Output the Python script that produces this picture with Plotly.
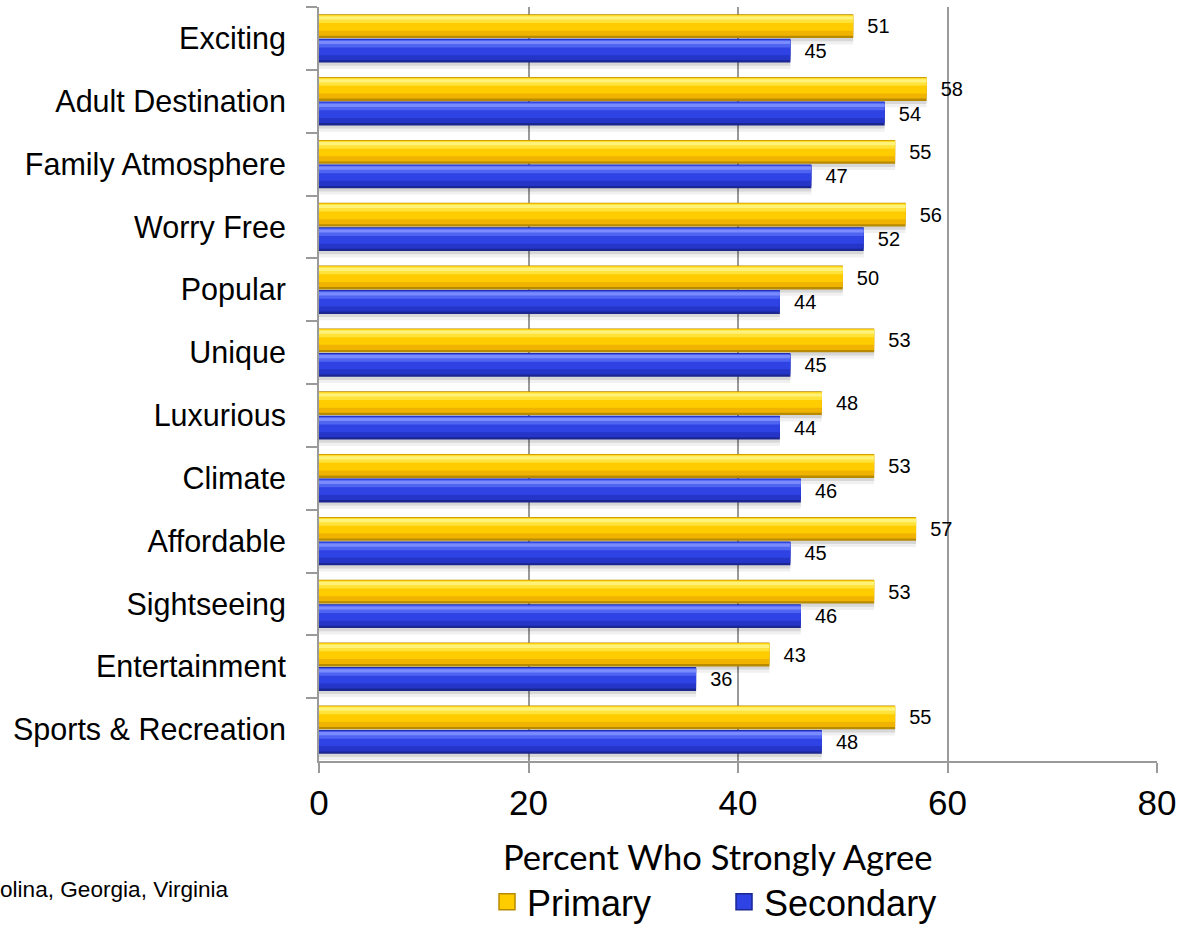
import plotly.graph_objects as go

# Survey attributes, top to bottom
categories = [
    "Exciting", "Adult Destination", "Family Atmosphere", "Worry Free",
    "Popular", "Unique", "Luxurious", "Climate", "Affordable",
    "Sightseeing", "Entertainment", "Sports & Recreation",
]
primary = [51, 58, 55, 56, 50, 53, 48, 53, 57, 53, 43, 55]
secondary = [45, 54, 47, 52, 44, 45, 44, 46, 45, 46, 36, 48]
x_ticks = [0, 20, 40, 60, 80]

BAR_W = 0.38
NBSP = "\u00a0"
ARIAL = "Liberation Sans, Arial, sans-serif"

# colour ramps for a bevelled look
yellow = dict(edge="#B88A00", body="#FFCC00", low="#F0B400", light="#FFE23A", hi="#FFF27A")
blue = dict(edge="#1B2690", body="#2F42E4", low="#2535C8", light="#5064F2", hi="#7A8AFF")

fig = go.Figure()


def add_series(values, offset, pal, name):
    common = dict(x=values, y=categories, orientation="h", hoverinfo="skip",
                  showlegend=False)
    # soft drop shadow (two layers)
    fig.add_trace(go.Bar(**common, offset=offset + 0.10, width=BAR_W,
                         marker=dict(color="rgba(0,0,0,0.06)", line_width=0)))
    fig.add_trace(go.Bar(**common, offset=offset + 0.05, width=BAR_W,
                         marker=dict(color="rgba(0,0,0,0.10)", line_width=0)))
    # dark outer edge carries the value label
    fig.add_trace(go.Bar(**common, offset=offset, width=BAR_W,
                         marker=dict(color=pal["edge"], line_width=0),
                         text=values, texttemplate=NBSP * 2 + "%{x}",
                         textposition="outside", constraintext="none",
                         cliponaxis=False,
                         textfont=dict(family=ARIAL, size=20, color="#000")))
    # lower body
    fig.add_trace(go.Bar(**common, offset=offset + 0.012, width=BAR_W - 0.05,
                         marker=dict(color=pal["low"], line_width=0)))
    # main body
    fig.add_trace(go.Bar(**common, offset=offset + 0.012, width=BAR_W - 0.13,
                         marker=dict(color=pal["body"], line_width=0)))
    # upper light band
    fig.add_trace(go.Bar(**common, offset=offset + 0.02, width=0.12,
                         marker=dict(color=pal["light"], line_width=0)))
    # bright highlight stripe
    fig.add_trace(go.Bar(**common, offset=offset + 0.035, width=0.05,
                         marker=dict(color=pal["hi"], line_width=0)))
    # legend entry
    fig.add_trace(go.Scatter(x=[None], y=[None], mode="markers", name=name,
                             marker=dict(symbol="square", size=20, color=pal["body"],
                                         line=dict(color=pal["edge"], width=1.5)),
                             hoverinfo="skip"))


add_series(primary, -0.385, yellow, "Primary")
add_series(secondary, 0.005, blue, "Secondary")

fig.update_layout(
    width=1184, height=925,
    margin=dict(l=319, r=27, t=7, b=164),
    paper_bgcolor="white", plot_bgcolor="white",
    barmode="overlay",
    font=dict(family=ARIAL, color="#000"),
    showlegend=True,
    legend=dict(orientation="h", x=0.2005, xanchor="left",
                yref="container", y=0.025, yanchor="middle",
                font=dict(family=ARIAL, size=36),
                entrywidth=192, entrywidthmode="pixels", itemclick=False,
                bgcolor="rgba(0,0,0,0)"),
    annotations=[
        dict(text="Percent Who Strongly Agree", xref="paper", yref="paper",
             x=0.4755, y=-0.127, xanchor="center", yanchor="middle", showarrow=False,
             font=dict(family="Lato, Open Sans, sans-serif", size=34.6)),
        dict(text="olina, Georgia, Virginia", xref="paper", yref="paper",
             x=-0.105, y=-0.170, xanchor="right", yanchor="middle", showarrow=False,
             font=dict(family=ARIAL, size=22.6)),
    ],
)

fig.update_xaxes(
    range=[0, 80], tickvals=x_ticks,
    showgrid=True, gridcolor="#9a9a9a", gridwidth=1.5,
    showline=True, linecolor="#9a9a9a", linewidth=2,
    ticks="outside", ticklen=10, tickwidth=2, tickcolor="#9a9a9a",
    zeroline=False, automargin=False,
    tickfont=dict(family=ARIAL, size=35),
)
fig.update_yaxes(
    type="category", categoryorder="array", categoryarray=categories,
    autorange="reversed",
    showgrid=False, showline=True, linecolor="#9a9a9a", linewidth=2,
    ticks="outside", tickson="boundaries", ticklen=11, tickwidth=2, tickcolor="#9a9a9a",
    ticklabelstandoff=25, automargin=False,
    tickfont=dict(family=ARIAL, size=30.5),
)

fig.write_html("out.html")
